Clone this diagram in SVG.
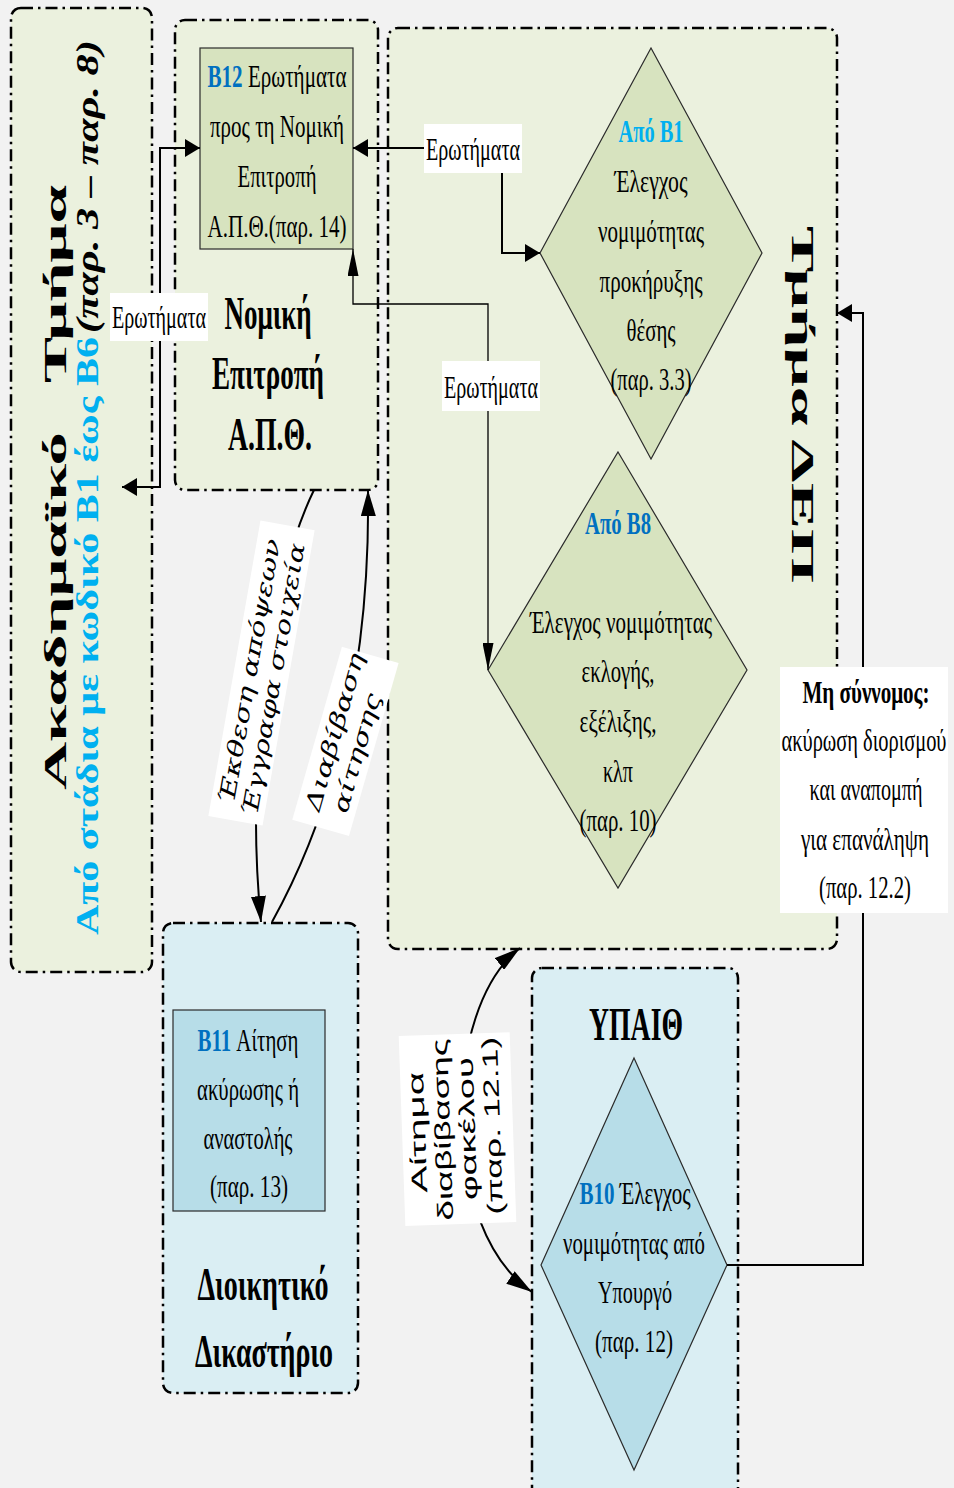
<svg xmlns="http://www.w3.org/2000/svg" width="954" height="1488" viewBox="0 0 954 1488">
<defs>
<style>
.bg{fill:#f2f2f2}
.cont{stroke:#000;stroke-width:2.5;stroke-dasharray:12 5 2.5 5}
.cg{fill:#ebf1de}
.cb{fill:#daeef3}
.ng{fill:#d7e3bf;stroke:#2b2b2b;stroke-width:1.2}
.nb{fill:#b7dde8;stroke:#2b2b2b;stroke-width:1.2}
.t{font-family:"Liberation Serif","Times New Roman",serif;font-size:31px;fill:#000;text-anchor:middle}
.s{text-anchor:start}
.b{font-weight:bold}
.h{font-size:46px;font-weight:bold}
.blue{fill:#0070c0;font-weight:bold}
.cyan{fill:#00b0f0;font-weight:bold}
.conn{fill:none;stroke:#000;stroke-width:2}
.thin{stroke-width:1.3}
.lbl{fill:#fff}
.it{font-family:"DejaVu Serif","Liberation Serif",serif;font-style:italic;font-size:22px;fill:#000;text-anchor:middle}
.sans{font-family:"Liberation Sans",Arial,sans-serif;font-size:22px;fill:#000;text-anchor:middle}
</style>
<marker id="ah" markerUnits="userSpaceOnUse" viewBox="0 0 15 18" markerWidth="15" markerHeight="18" refX="15" refY="9" orient="auto-start-reverse"><path d="M0,0 L15,9 L0,18 Z" fill="#000"/></marker>
<marker id="av" markerUnits="userSpaceOnUse" viewBox="0 0 27 11" markerWidth="27" markerHeight="11" refX="27" refY="5.5" orient="auto-start-reverse"><path d="M0,0 L27,5.5 L0,11 Z" fill="#000"/></marker>
<marker id="ac" markerUnits="userSpaceOnUse" viewBox="0 0 26 15" markerWidth="26" markerHeight="15" refX="26" refY="7.5" orient="auto-start-reverse"><path d="M0,0 L26,7.5 L0,15 Z" fill="#000"/></marker>
</defs>
<rect class="bg" x="0" y="0" width="954" height="1488"/>

<g id="academic">
<rect class="cont cg" x="11" y="8" width="141" height="964" rx="10"/>
<text class="t b s" font-size="40" transform="translate(66,790) rotate(-90)" textLength="358" lengthAdjust="spacingAndGlyphs">Ακαδημαϊκό</text>
<text class="t b s" font-size="40" transform="translate(66,383) rotate(-90)" textLength="198" lengthAdjust="spacingAndGlyphs">Τμήμα</text>
<text class="t s cyan" font-size="21" transform="translate(98,935) rotate(-90)" textLength="598" lengthAdjust="spacingAndGlyphs">Από στάδια με κωδικό B1 έως B6</text>
<text class="t b s" font-size="21" font-style="italic" transform="translate(98,333) rotate(-90)" textLength="293" lengthAdjust="spacingAndGlyphs">(παρ. 3 – παρ. 8)</text>
</g>

<g id="nomiki">
<rect class="cont cg" x="175" y="20" width="203" height="470" rx="10"/>
<text class="t h" x="268" y="329" textLength="87" lengthAdjust="spacingAndGlyphs">Νομική</text>
<text class="t h" x="268" y="389" textLength="112" lengthAdjust="spacingAndGlyphs">Επιτροπή</text>
<text class="t h" x="270" y="450" textLength="84" lengthAdjust="spacingAndGlyphs">Α.Π.Θ.</text>
</g>

<g id="b12">
<rect class="ng" x="200" y="48" width="153" height="201"/>
<text class="t" x="277" y="87" textLength="139" lengthAdjust="spacingAndGlyphs"><tspan class="blue">B12</tspan> Ερωτήματα</text>
<text class="t" x="277" y="137" textLength="134" lengthAdjust="spacingAndGlyphs">προς τη Νομική</text>
<text class="t" x="277" y="187" textLength="79" lengthAdjust="spacingAndGlyphs">Επιτροπή</text>
<text class="t" x="277" y="237" textLength="139" lengthAdjust="spacingAndGlyphs">Α.Π.Θ.(παρ. 14)</text>
</g>

<g id="dep">
<rect class="cont cg" x="388" y="28" width="449" height="921" rx="10"/>
<text class="t b s" font-size="39" transform="translate(792,226) rotate(90)" textLength="357" lengthAdjust="spacingAndGlyphs">Τμήμα ΔΕΠ</text>
</g>

<g id="b1">
<polygon class="ng" points="651,48 762,253 651,459 540,253"/>
<text class="t cyan" x="651" y="142" textLength="65" lengthAdjust="spacingAndGlyphs">Από B1</text>
<text class="t" x="651" y="192" textLength="73" lengthAdjust="spacingAndGlyphs">Έλεγχος</text>
<text class="t" x="651" y="242" textLength="106" lengthAdjust="spacingAndGlyphs">νομιμότητας</text>
<text class="t" x="651" y="292" textLength="103" lengthAdjust="spacingAndGlyphs">προκήρυξης</text>
<text class="t" x="651" y="341" textLength="49" lengthAdjust="spacingAndGlyphs">θέσης</text>
<text class="t" x="651" y="390" textLength="81" lengthAdjust="spacingAndGlyphs">(παρ. 3.3)</text>
</g>

<g id="b8">
<polygon class="ng" points="618,452 747,670 618,888 488,670"/>
<text class="t blue" x="618" y="534" textLength="66" lengthAdjust="spacingAndGlyphs">Από B8</text>
<text class="t" x="621" y="633" textLength="182" lengthAdjust="spacingAndGlyphs">Έλεγχος νομιμότητας</text>
<text class="t" x="618" y="682" textLength="73" lengthAdjust="spacingAndGlyphs">εκλογής,</text>
<text class="t" x="618" y="732" textLength="77" lengthAdjust="spacingAndGlyphs">εξέλιξης,</text>
<text class="t" x="618" y="782" textLength="30" lengthAdjust="spacingAndGlyphs">κλπ</text>
<text class="t" x="618" y="831" textLength="77" lengthAdjust="spacingAndGlyphs">(παρ. 10)</text>
</g>

<g id="court">
<rect class="cont cb" x="163" y="923" width="195" height="470" rx="10"/>
<text class="t h" font-size="42" x="263" y="1300" textLength="131" lengthAdjust="spacingAndGlyphs">Διοικητικό</text>
<text class="t h" font-size="42" x="264" y="1367" textLength="138" lengthAdjust="spacingAndGlyphs">Δικαστήριο</text>
</g>

<g id="b11">
<rect class="nb" x="173" y="1010" width="152" height="201"/>
<text class="t" x="248" y="1051" textLength="101" lengthAdjust="spacingAndGlyphs"><tspan class="blue">B11</tspan> Αίτηση</text>
<text class="t" x="248" y="1100" textLength="102" lengthAdjust="spacingAndGlyphs">ακύρωσης ή</text>
<text class="t" x="248" y="1149" textLength="89" lengthAdjust="spacingAndGlyphs">αναστολής</text>
<text class="t" x="249" y="1197" textLength="78" lengthAdjust="spacingAndGlyphs">(παρ. 13)</text>
</g>

<g id="ypaith">
<rect class="cont cb" x="532" y="968" width="206" height="560" rx="10"/>
<text class="t h" font-size="50" x="636" y="1040" textLength="94" lengthAdjust="spacingAndGlyphs">ΥΠΑΙΘ</text>
</g>

<g id="b10">
<polygon class="nb" points="634,1058 727,1265 634,1470 541,1265"/>
<text class="t" x="635" y="1204" textLength="111" lengthAdjust="spacingAndGlyphs"><tspan class="blue">B10</tspan> Έλεγχος</text>
<text class="t" x="634" y="1254" textLength="142" lengthAdjust="spacingAndGlyphs">νομιμότητας από</text>
<text class="t" x="635" y="1303" textLength="74" lengthAdjust="spacingAndGlyphs">Υπουργό</text>
<text class="t" x="634" y="1352" textLength="78" lengthAdjust="spacingAndGlyphs">(παρ. 12)</text>
</g>

<g id="connectors">
<path class="conn" d="M122,487 H160 V148 H200" marker-start="url(#ah)" marker-end="url(#ah)"/>
<path class="conn" d="M353,148 H502 V253 H540" marker-start="url(#ah)" marker-end="url(#ah)"/>
<path class="conn thin" d="M353,249 V304 H488 V670" marker-start="url(#av)" marker-end="url(#av)"/>
<path class="conn" d="M314,490 C270,580 245,760 261,922" marker-end="url(#ac)"/>
<path class="conn" d="M272,922 C345,790 370,640 368,490" marker-end="url(#ac)"/>
<path class="conn" d="M520,948 C440,1010 440,1230 532,1292" marker-start="url(#ac)" marker-end="url(#ac)"/>
<path class="conn" d="M727,1265 H863 V313 H837" marker-end="url(#ah)"/>

<rect class="lbl" x="110" y="293" width="98" height="48"/>
<text class="t" font-size="33" x="159" y="328" textLength="94" lengthAdjust="spacingAndGlyphs">Ερωτήματα</text>
<rect class="lbl" x="424" y="124" width="98" height="49"/>
<text class="t" font-size="33" x="473" y="160" textLength="94" lengthAdjust="spacingAndGlyphs">Ερωτήματα</text>
<rect class="lbl" x="442" y="361" width="98" height="50"/>
<text class="t" font-size="33" x="491" y="398" textLength="94" lengthAdjust="spacingAndGlyphs">Ερωτήματα</text>

<g transform="translate(261,673) rotate(-80)">
<rect class="lbl" x="-150" y="-27" width="300" height="55"/>
<text class="it" x="0" y="-4" textLength="268" lengthAdjust="spacingAndGlyphs">Έκθεση απόψεων</text>
<text class="it" x="-4" y="21" textLength="276" lengthAdjust="spacingAndGlyphs">Έγγραφα στοιχεία</text>
</g>
<g transform="translate(344,741) rotate(-74)">
<rect class="lbl" x="-90" y="-28" width="180" height="59"/>
<text class="it" x="6" y="-4" textLength="163" lengthAdjust="spacingAndGlyphs">Διαβίβαση</text>
<text class="it" x="-8" y="23" textLength="123" lengthAdjust="spacingAndGlyphs">αίτησης</text>
</g>
<g transform="translate(458,1129) rotate(-92)">
<rect class="lbl" x="-95" y="-56" width="190" height="111"/>
<text class="sans" x="-2" y="-33" textLength="121" lengthAdjust="spacingAndGlyphs">Αίτημα</text>
<text class="sans" x="0" y="-8" textLength="182" lengthAdjust="spacingAndGlyphs">διαβίβασης</text>
<text class="sans" x="0" y="17" textLength="143" lengthAdjust="spacingAndGlyphs">φακέλου</text>
<text class="sans" x="2" y="42" textLength="178" lengthAdjust="spacingAndGlyphs">(παρ. 12.1)</text>
</g>

<rect class="lbl" x="780" y="667" width="168" height="246"/>
<text class="t b" font-size="30" x="866" y="703" textLength="127" lengthAdjust="spacingAndGlyphs">Μη σύννομος:</text>
<text class="t" font-size="30" x="864" y="751" textLength="165" lengthAdjust="spacingAndGlyphs">ακύρωση διορισμού</text>
<text class="t" font-size="30" x="866" y="800" textLength="113" lengthAdjust="spacingAndGlyphs">και αναπομπή</text>
<text class="t" font-size="30" x="865" y="850" textLength="128" lengthAdjust="spacingAndGlyphs">για επανάληψη</text>
<text class="t" font-size="30" x="865" y="898" textLength="92" lengthAdjust="spacingAndGlyphs">(παρ. 12.2)</text>
</g>
</svg>
